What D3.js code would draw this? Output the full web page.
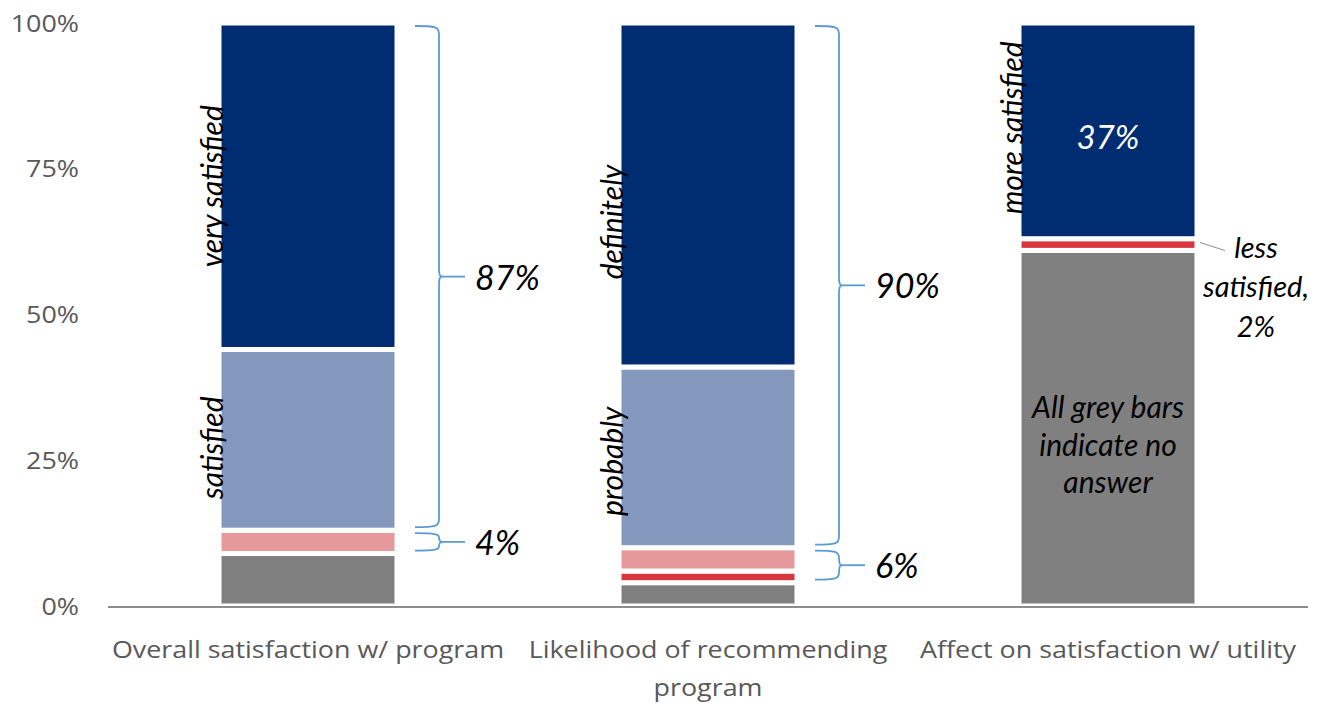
<!DOCTYPE html>
<html>
<head>
<meta charset="utf-8">
<script src="https://cdn.jsdelivr.net/npm/d3@7"></script>
<style>
  body { margin: 0; background: #fff; }
  svg { display: block; }
</style>
</head>
<body>
<svg id="chart" width="1320" height="704"></svg>
<script>
// ---- data ----
const categories = [
  "Overall satisfaction w/ program",
  "Likelihood of recommending program",
  "Affect on satisfaction w/ utility"
];
const seriesKeys = ["noAnswer", "negative", "somewhatNegative", "somewhatPositive", "positive"];
const noAnswer         = [9, 4, 61];
const negative         = [0, 2, 2];
const somewhatNegative = [4, 4, 0];
const somewhatPositive = [31, 31, 0];
const positive         = [56, 59, 37];
const yTicks = [0, 25, 50, 75, 100];
const positiveLabels = ["very satisfied", "definitely", "more satisfied"];
const somewhatPositiveLabels = ["satisfied", "probably", ""];
const noteLines = ["All grey bars", "indicate no", "answer"];
const negativeCallout = ["less", "satisfied,"];

// ---- styling ----
const colors = {
  noAnswer: "#808080",
  negative: "#D7373D",
  somewhatNegative: "#E6999B",
  somewhatPositive: "#8497BD",
  positive: "#002C71"
};
const braceColor = "#5B9BD5";
const axisText = "#595959";
const sansFont = "'Open Sans', 'Noto Sans', sans-serif";
const noteFont = "Lato, 'Open Sans', sans-serif";
const axisStretch = 1.12;          // axis text is set slightly wide
const sideLabelNudge = {           // vertical nudges (px) for the rotated labels
  positive: [0, 27, -3],
  somewhatPositive: [8, 4, 0]
};

const svg = d3.select("#chart");

const rows = categories.map((c, i) => ({
  category: c,
  noAnswer: noAnswer[i],
  negative: negative[i],
  somewhatNegative: somewhatNegative[i],
  somewhatPositive: somewhatPositive[i],
  positive: positive[i]
}));
const stacked = d3.stack().keys(seriesKeys)(rows);

const x = d3.scaleBand()
  .domain(categories)
  .range([108, 1308])
  .paddingInner(0.555)
  .paddingOuter(0.2775);
const y = d3.scaleLinear().domain([0, 100]).range([606, 23]);
const bw = x.bandwidth();

// ---- y axis labels ----
svg.append("g").selectAll("text")
  .data(yTicks)
  .join("text")
  .attr("transform", d => `translate(79,${y(d)}) scale(${axisStretch},1)`)
  .attr("dy", "0.36em")
  .attr("text-anchor", "end")
  .attr("font-family", sansFont)
  .attr("font-size", 24)
  .attr("fill", axisText)
  .text(d => d + "%");

// ---- stacked bars ----
const layers = svg.append("g").selectAll("g")
  .data(stacked)
  .join("g")
  .attr("fill", d => colors[d.key]);
layers.selectAll("rect")
  .data(d => d.filter(s => s[1] - s[0] > 0))
  .join("rect")
  .attr("x", d => x(d.data.category))
  .attr("width", bw)
  .attr("y", d => y(d[1]))
  .attr("height", d => y(d[0]) - y(d[1]))
  .attr("stroke", "#fff")
  .attr("stroke-width", 5);

// ---- baseline ----
svg.append("line")
  .attr("x1", 108).attr("x2", 1308)
  .attr("y1", y(0) + 1).attr("y2", y(0) + 1)
  .attr("stroke", "#8C8C8C")
  .attr("stroke-width", 2);

// ---- category labels (wrapped to band width) ----
const catG = svg.append("g");
categories.forEach(c => {
  const cx = x(c) + bw / 2;
  const t = catG.append("text")
    .attr("transform", `translate(${cx},658) scale(${axisStretch},1)`)
    .attr("text-anchor", "middle")
    .attr("font-family", sansFont)
    .attr("font-size", 24)
    .attr("fill", axisText);
  const words = c.split(" ");
  let line = [];
  let tspan = t.append("tspan").attr("x", 0).attr("dy", 0);
  words.forEach(w => {
    line.push(w);
    tspan.text(line.join(" "));
    if (tspan.node().getComputedTextLength() * axisStretch > 398 && line.length > 1) {
      line.pop();
      tspan.text(line.join(" "));
      line = [w];
      tspan = t.append("tspan").attr("x", 0).attr("dy", 38).text(w);
    }
  });
});

// ---- rotated segment labels ----
const segOf = (key, i) => stacked.find(s => s.key === key)[i];
function sideLabel(key, i, txt) {
  if (!txt) return;
  const s = segOf(key, i);
  const cy = (y(s[0]) + y(s[1])) / 2 + sideLabelNudge[key][i];
  const cx = x(categories[i]) + 4;
  svg.append("text")
    .attr("transform", `translate(${cx},${cy}) rotate(-90)`)
    .attr("text-anchor", "middle")
    .attr("font-family", noteFont)
    .attr("font-style", "italic")
    .attr("font-size", 30)
    .attr("fill", "#000")
    .text(txt);
}
positiveLabels.forEach((t, i) => sideLabel("positive", i, t));
somewhatPositiveLabels.forEach((t, i) => sideLabel("somewhatPositive", i, t));

// ---- braces with totals ----
const braceGroups = [
  { cat: 0, keys: ["somewhatPositive", "positive"] },
  { cat: 0, keys: ["negative", "somewhatNegative"] },
  { cat: 1, keys: ["somewhatPositive", "positive"] },
  { cat: 1, keys: ["negative", "somewhatNegative"] }
];
function bracePath(xa, xv, top, bot) {
  const mid = (top + bot) / 2;
  const r = Math.min(8, (bot - top) / 4);
  return `M${xa},${top} C${xv - 3},${top} ${xv},${top + 1} ${xv},${top + r}` +
    ` L${xv},${mid - r} C${xv},${mid - 1} ${xv + 1},${mid} ${xv + 4},${mid}` +
    ` C${xv + 1},${mid} ${xv},${mid + 1} ${xv},${mid + r}` +
    ` L${xv},${bot - r} C${xv},${bot - 1} ${xv - 3},${bot} ${xa},${bot}`;
}
braceGroups.forEach(g => {
  const segs = g.keys.map(k => segOf(k, g.cat));
  const lo = d3.min(segs, s => s[0]);
  const hi = d3.max(segs, s => s[1]);
  const total = d3.sum(g.keys, k => rows[g.cat][k]);
  const top = y(hi) + 3, bot = y(lo) - 3;
  const xa = x(categories[g.cat]) + bw + 18;
  const xv = xa + 24;
  const mid = (top + bot) / 2;
  svg.append("path")
    .attr("d", bracePath(xa, xv, top, bot))
    .attr("fill", "none")
    .attr("stroke", braceColor)
    .attr("stroke-width", 1.8);
  svg.append("line")
    .attr("x1", xv + 4).attr("x2", xv + 26)
    .attr("y1", mid).attr("y2", mid)
    .attr("stroke", braceColor)
    .attr("stroke-width", 1.8);
  svg.append("text")
    .attr("x", xv + 36)
    .attr("y", mid)
    .attr("dy", "0.38em")
    .attr("font-family", noteFont)
    .attr("font-style", "italic")
    .attr("font-size", 34)
    .attr("fill", "#000")
    .text(total + "%");
});

// ---- third bar annotations ----
const c3 = categories[2];
const pos3 = segOf("positive", 2);
svg.append("text")
  .attr("x", x(c3) + bw / 2)
  .attr("y", (y(pos3[0]) + y(pos3[1])) / 2 + 6)
  .attr("dy", "0.36em")
  .attr("text-anchor", "middle")
  .attr("font-family", noteFont)
  .attr("font-style", "italic")
  .attr("font-size", 33)
  .attr("fill", "#fff")
  .text(positive[2] + "%");

const neg3 = segOf("negative", 2);
const negMid = (y(neg3[0]) + y(neg3[1])) / 2;
svg.append("line")
  .attr("x1", x(c3) + bw + 3).attr("y1", negMid - 2)
  .attr("x2", x(c3) + bw + 28).attr("y2", negMid + 6)
  .attr("stroke", "#8C8C8C")
  .attr("stroke-width", 1);
const callout = svg.append("text")
  .attr("text-anchor", "middle")
  .attr("font-family", noteFont)
  .attr("font-style", "italic")
  .attr("font-size", 29)
  .attr("fill", "#000");
negativeCallout.concat([negative[2] + "%"]).forEach((t, i) => {
  callout.append("tspan")
    .attr("x", 1256)
    .attr("y", negMid + 13 + i * 39.5)
    .text(t);
});

const note = svg.append("text")
  .attr("text-anchor", "middle")
  .attr("font-family", noteFont)
  .attr("font-style", "italic")
  .attr("font-size", 30)
  .attr("fill", "#000");
noteLines.forEach((t, i) => {
  note.append("tspan")
    .attr("x", x(c3) + bw / 2)
    .attr("y", 418 + i * 37.5)
    .text(t);
});
</script>
</body>
</html>
